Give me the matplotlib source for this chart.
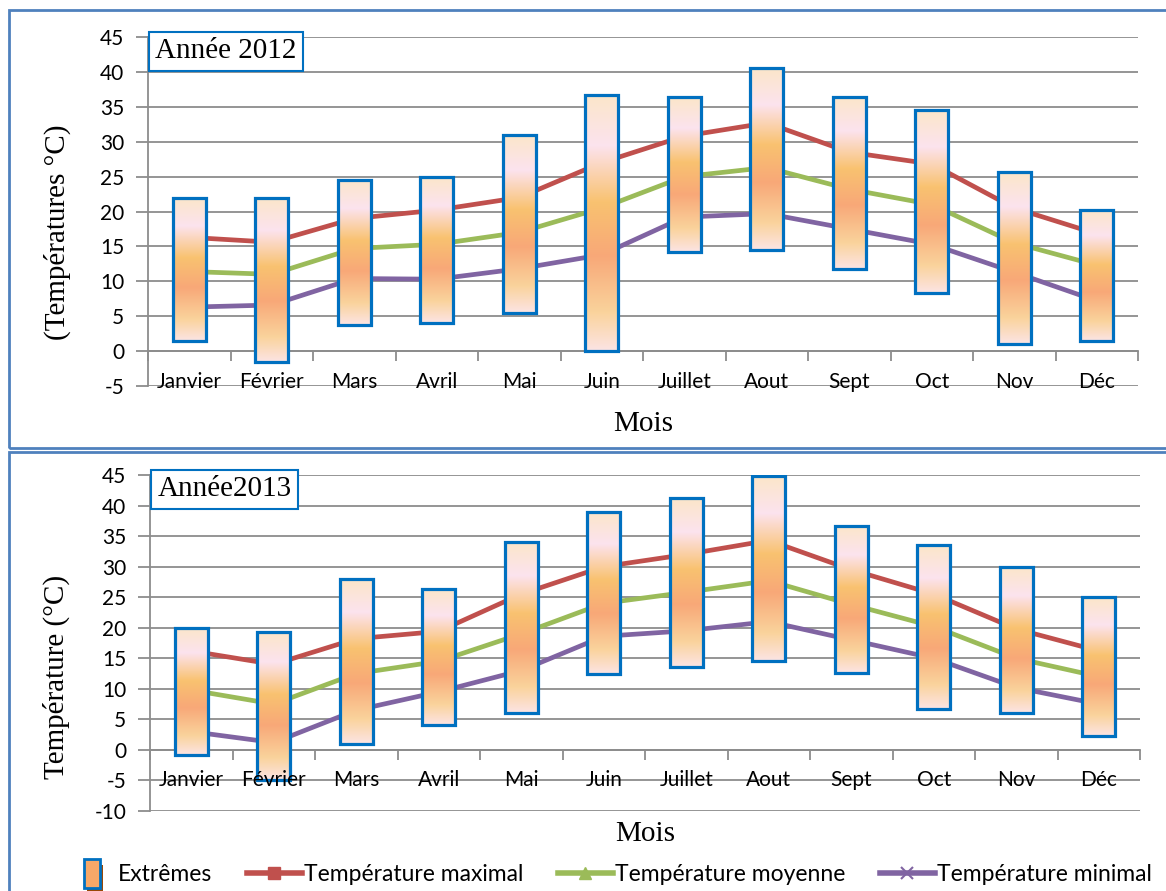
import numpy as np
import matplotlib
matplotlib.use("Agg")
import matplotlib.pyplot as plt
from matplotlib.colors import LinearSegmentedColormap
from matplotlib.patches import Rectangle
from matplotlib.lines import Line2D
from matplotlib.legend_handler import HandlerBase

plt.rcParams["axes.unicode_minus"] = False

mois = ["Janvier", "Février", "Mars", "Avril", "Mai", "Juin",
        "Juillet", "Aout", "Sept", "Oct", "Nov", "Déc"]

# 2012
ext_haut_2012 = [22, 22, 24.5, 25, 31, 36.7, 36.4, 40.5, 36.4, 34.5, 25.6, 20.2]
ext_bas_2012 = [1.5, -1.5, 3.7, 4, 5.4, 0, 14.2, 14.5, 11.7, 8.3, 1, 1.4]
tmax_2012 = [16.3, 15.6, 19, 20.2, 22, 27, 30.8, 32.7, 28.5, 26.8, 20.5, 16.8]
tmoy_2012 = [11.4, 11, 14.7, 15.3, 17, 20.5, 25, 26.3, 23.2, 21, 15.5, 12.3]
tmin_2012 = [6.3, 6.6, 10.4, 10.3, 11.8, 13.8, 19.2, 19.7, 17.5, 15.3, 11.3, 7.2]

# 2013
ext_haut_2013 = [20, 19.3, 28, 26.4, 34, 39, 41.2, 44.8, 36.7, 33.5, 30, 25]
ext_bas_2013 = [-0.8, -4.9, 1, 4.1, 6, 12.4, 13.6, 14.6, 12.6, 6.7, 6, 2.3]
tmax_2013 = [16.2, 14, 18.2, 19.4, 25.5, 30, 32, 34.3, 29.5, 25.5, 19.8, 16.2]
tmoy_2013 = [9.8, 7.5, 12.5, 14.5, 19, 24, 25.8, 27.7, 23.8, 20.2, 15, 12]
tmin_2013 = [3, 1.2, 6.5, 9.5, 13, 18.6, 19.5, 21, 18, 15, 10.2, 7.5]

c_max = "#C0504D"
c_moy = "#9BBB59"
c_min = "#8064A2"
c_bord = "#0070C0"
c_grille = "#8C8C8C"
sans = ["Lato", "DejaVu Sans"]
serif = ["Liberation Serif", "DejaVu Serif"]

degrade = LinearSegmentedColormap.from_list("ext", [
    (0.0, "#FBE6C9"), (0.2, "#FCE3EE"), (0.42, "#F9C270"),
    (0.63, "#F8A878"), (0.85, "#FAD39C"), (1.0, "#FCE4E4")])
grad = np.linspace(0, 1, 256).reshape(-1, 1)


def tracer(ax, haut, bas, tmax, tmoy, tmin, ymin, titre, ylabel, ylab_pos, xlab_y):
    x = np.arange(len(mois))
    ax.set_xlim(-0.5, len(mois) - 0.5)
    ax.set_ylim(ymin, 45)
    ax.set_yticks(np.arange(ymin, 46, 5))
    ax.yaxis.grid(True, color=c_grille, linewidth=1.3)
    ax.set_axisbelow(True)
    for s in ["top", "right"]:
        ax.spines[s].set_visible(False)
    ax.spines["left"].set_color(c_grille)
    ax.spines["left"].set_linewidth(1.3)
    ax.spines["bottom"].set_position(("data", 0))
    ax.spines["bottom"].set_color(c_grille)
    ax.spines["bottom"].set_linewidth(1.3)
    ax.tick_params(axis="y", length=9, width=1.3, color=c_grille,
                   labelsize=15, pad=8)
    ax.set_xticks(np.arange(-0.5, len(mois), 1))
    ax.set_xticklabels([])
    ax.tick_params(axis="x", length=7, width=1.3, color=c_grille)
    for lab in ax.get_yticklabels():
        lab.set_family(sans)
    # noms des mois sous l'axe du zéro
    for i, m in enumerate(mois):
        ax.annotate(m, (i, 0), xytext=(0, -22), textcoords="offset points",
                    ha="center", va="center", fontsize=15, family=sans,
                    zorder=8, annotation_clip=False)

    ax.plot(x, tmax, color=c_max, lw=3.4, zorder=3, solid_capstyle="butt")
    ax.plot(x, tmoy, color=c_moy, lw=3.4, zorder=3, solid_capstyle="butt")
    ax.plot(x, tmin, color=c_min, lw=3.4, zorder=3, solid_capstyle="butt")

    hauteurs = np.array(haut) - np.array(bas)
    barres = ax.bar(x, hauteurs, bottom=bas, width=0.4, facecolor="none",
                    edgecolor=c_bord, linewidth=2.3, zorder=5)
    for b in barres:
        x0, y0 = b.get_x(), b.get_y()
        im = ax.imshow(grad, cmap=degrade, aspect="auto", zorder=4,
                       extent=[x0, x0 + b.get_width(), y0, y0 + b.get_height()],
                       origin="upper")
        im.set_clip_path(b)
    ax.set_xlim(-0.5, len(mois) - 0.5)
    ax.set_ylim(ymin, 45)

    ax.text(0.0075, 0.996, titre, transform=ax.transAxes, ha="left", va="top",
            fontsize=21, family=serif, zorder=9,
            bbox=dict(boxstyle="square,pad=0.22", fc="white", ec=c_bord, lw=1.5))
    ax.set_ylabel(ylabel, fontsize=21, family=serif)
    ax.yaxis.set_label_coords(*ylab_pos)
    ax.set_xlabel("Mois", fontsize=21, family=serif)
    ax.xaxis.set_label_coords(0.5, xlab_y)


class HandlerExtremes(HandlerBase):
    # petite boîte verticale avec ombre, comme la série "Extrêmes"
    def create_artists(self, legend, orig_handle, xdescent, ydescent,
                       width, height, fontsize, trans):
        w = 0.3 * width
        x0 = 0.42 * width - xdescent
        h = 1.8 * height
        y0 = -ydescent - 0.4 * height
        ombre = Rectangle((x0 + 2, y0 - 4), w, h, fc="#984807", ec="none",
                          transform=trans)
        boite = Rectangle((x0, y0), w, h, fc="#F7A868", ec=c_bord, lw=2,
                          transform=trans)
        return [ombre, boite]


fig = plt.figure(figsize=(11.66, 8.91), dpi=100)

# cadres des deux graphiques
fig.add_artist(Rectangle((9 / 1166, 1 - 448 / 891), 1.2, 438 / 891,
                         transform=fig.transFigure, fill=False,
                         ec="#4F81BD", lw=2))
fig.add_artist(Rectangle((9 / 1166, -0.1), 1.2, 0.1 + 1 - 452 / 891,
                         transform=fig.transFigure, fill=False,
                         ec="#4F81BD", lw=2))

ax1 = fig.add_axes([148 / 1166, 1 - 386 / 891, 990 / 1166, 349 / 891])
tracer(ax1, ext_haut_2012, ext_bas_2012, tmax_2012, tmoy_2012, tmin_2012,
       -5, "Année 2012", "(Températures °C)", (-0.078, 0.44), -0.072)

ax2 = fig.add_axes([150 / 1166, 1 - 811 / 891, 990 / 1166, 336 / 891])
tracer(ax2, ext_haut_2013, ext_bas_2013, tmax_2013, tmoy_2013, tmin_2013,
       -10, "Année2013", "Température (°C)", (-0.081, 0.40), -0.030)

extremes = Rectangle((0, 0), 1, 1)
poignees = [
    extremes,
    Line2D([], [], color=c_max, lw=4, marker="s", markersize=8),
    Line2D([], [], color=c_moy, lw=4, marker="^", markersize=8),
    Line2D([], [], color=c_min, lw=4, marker="x", markersize=8, mew=1.5),
]
noms = ["Extrêmes", "Température maximal", "Température moyenne",
        "Température minimal"]
fig.legend(poignees, noms, loc="center", bbox_to_anchor=(0.52, 0.018),
           ncol=4, frameon=False, prop={"family": sans, "size": 16.5},
           columnspacing=1.5, handlelength=2.4, handletextpad=0.1,
           handler_map={extremes: HandlerExtremes()})

fig.savefig("out.png", dpi=100)
